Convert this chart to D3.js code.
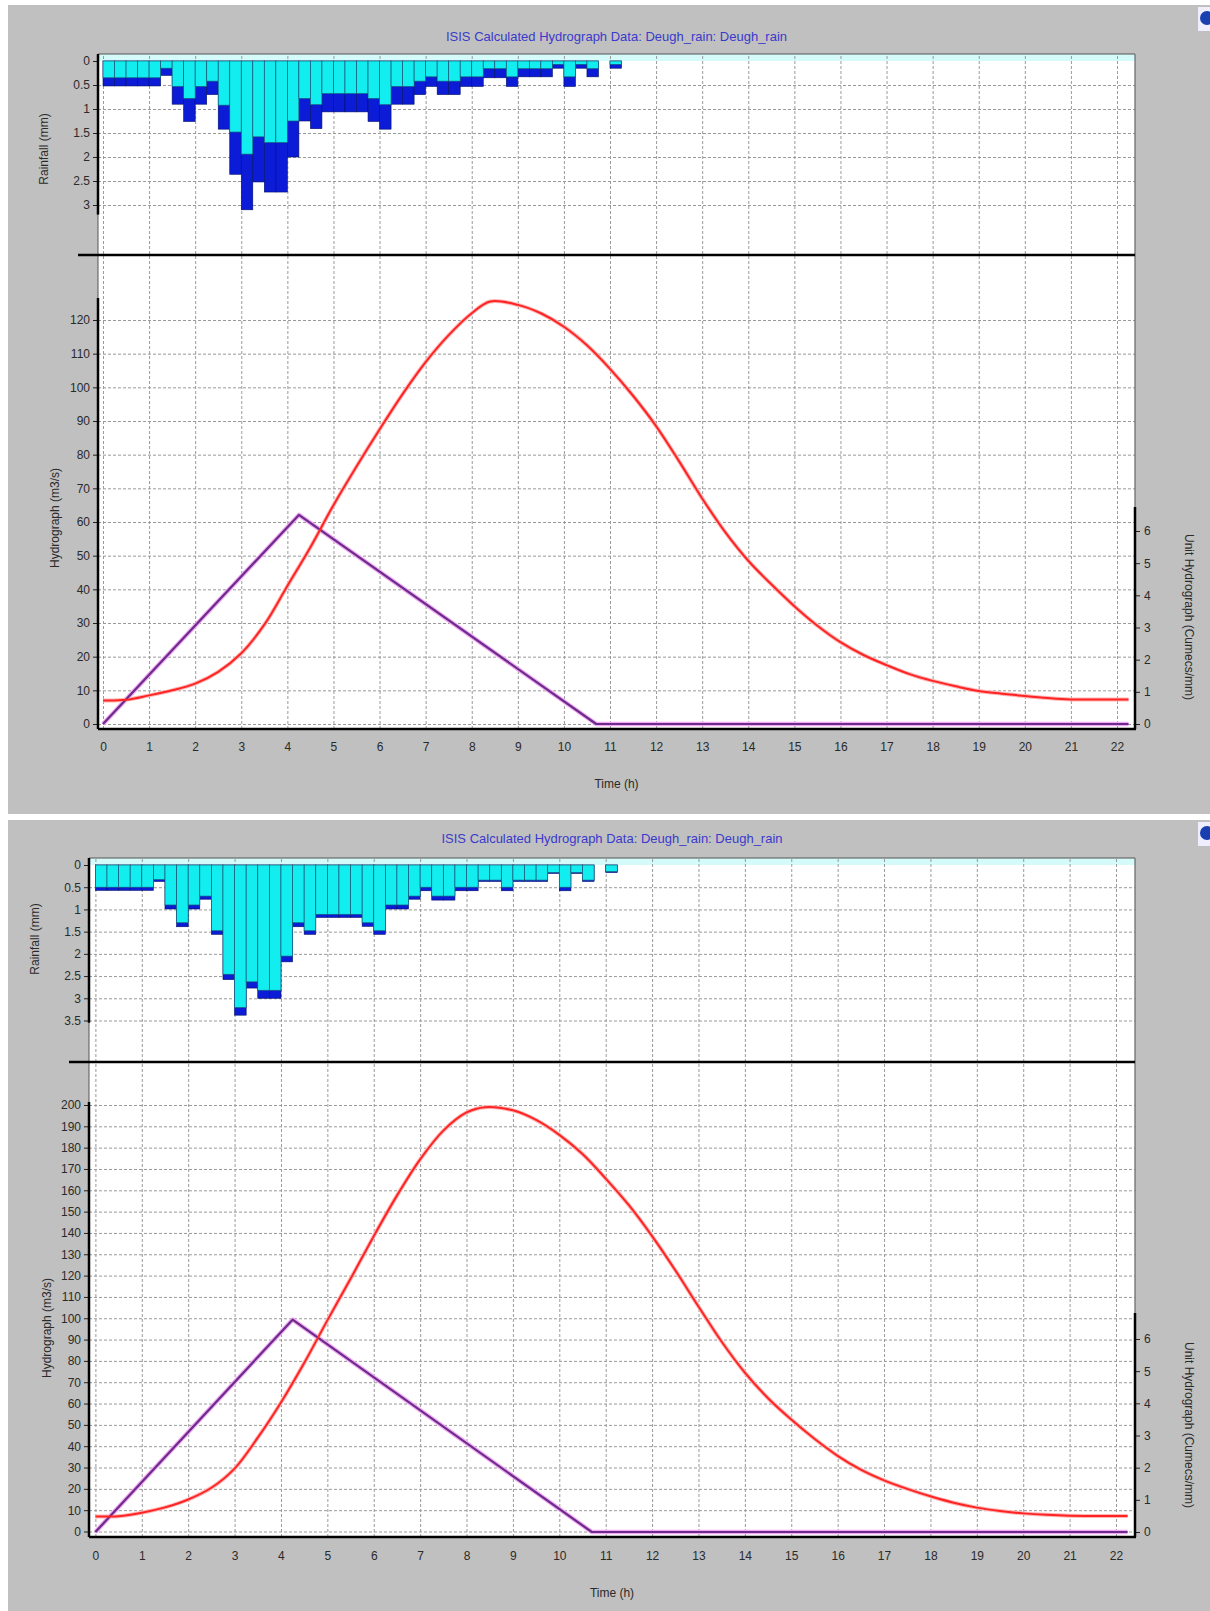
<!DOCTYPE html>
<html>
<head>
<meta charset="utf-8">
<script src="https://cdnjs.cloudflare.com/ajax/libs/d3/7.8.5/d3.min.js"></script>
<style>
  body { margin: 0; background: #fff; }
  svg { display: block; font-family: "Liberation Sans", Arial, sans-serif; }
</style>
</head>
<body>
<div id="chart"></div>
<script>
// ---- data ----
const titleText = "ISIS Calculated Hydrograph Data: Deugh_rain: Deugh_rain";

const timeTicks = [0,1,2,3,4,5,6,7,8,9,10,11,12,13,14,15,16,17,18,19,20,21,22];
const rainTicksTop = [0,0.5,1,1.5,2,2.5,3];
const rainTicksBottom = [0,0.5,1,1.5,2,2.5,3,3.5];
const flowTicksTop = [0,10,20,30,40,50,60,70,80,90,100,110,120];
const flowTicksBottom = [0,10,20,30,40,50,60,70,80,90,100,110,120,130,140,150,160,170,180,190,200];
const uhTicks = [0,1,2,3,4,5,6];

// rainfall in 15 minute blocks (start time, h)
const rainStep = 0.25;
const rainStart = [0,0.25,0.5,0.75,1,1.25,1.5,1.75,2,2.25,2.5,2.75,3,3.25,3.5,3.75,4,4.25,4.5,4.75,
  5,5.25,5.5,5.75,6,6.25,6.5,6.75,7,7.25,7.5,7.75,8,8.25,8.5,8.75,9,9.25,9.5,9.75,10,10.25,10.5,10.75,11];

// top chart: total (dark) and effective (cyan) rainfall, mm
const rainTotalTop = [0.52,0.52,0.52,0.52,0.52,0.3,0.9,1.26,0.9,0.7,1.42,2.36,3.1,2.52,2.73,2.73,2.0,1.25,1.41,1.06,
  1.06,1.06,1.06,1.26,1.42,0.9,0.9,0.7,0.53,0.7,0.7,0.53,0.53,0.35,0.35,0.53,0.33,0.33,0.33,0.15,0.53,0.15,0.33,0,0.15];
const rainEffTop = [0.35,0.35,0.35,0.35,0.35,0.15,0.53,0.78,0.53,0.42,0.92,1.48,1.94,1.58,1.7,1.7,1.25,0.78,0.91,0.68,
  0.68,0.68,0.68,0.78,0.91,0.53,0.53,0.42,0.33,0.42,0.42,0.33,0.33,0.16,0.16,0.33,0.16,0.16,0.16,0.07,0.33,0.07,0.16,0,0.07];

// bottom chart
const rainTotalBottom = [0.57,0.57,0.57,0.57,0.57,0.37,0.99,1.39,0.99,0.77,1.56,2.58,3.38,2.77,3.0,3.0,2.18,1.39,1.56,1.18,
  1.18,1.18,1.18,1.38,1.56,0.99,0.99,0.77,0.58,0.79,0.79,0.58,0.58,0.37,0.37,0.58,0.37,0.37,0.37,0.19,0.58,0.19,0.37,0,0.17];
const rainEffBottom = [0.5,0.5,0.5,0.5,0.5,0.33,0.9,1.3,0.9,0.7,1.48,2.46,3.21,2.63,2.82,2.82,2.05,1.3,1.48,1.11,
  1.11,1.11,1.11,1.3,1.48,0.9,0.9,0.7,0.5,0.7,0.7,0.5,0.5,0.34,0.34,0.5,0.34,0.34,0.34,0.17,0.5,0.17,0.34,0,0.15];

// hydrograph (m3/s)
const hydroTime = [0,0.5,1,1.5,2,2.5,3,3.5,4,4.5,5,5.5,6,6.5,7,7.5,8,8.4,9,9.5,10,10.5,11,11.5,12,12.5,13,13.5,14,14.5,
  15,15.5,16,16.5,17,17.5,18,18.5,19,19.5,20,20.5,21,22,22.25];
const flowTop = [7,7.2,8.5,10,12,15.5,21,29.5,41,52.5,65,76.5,87.5,98,107.5,115.5,122,125.5,124.5,122,118,112.5,105.5,97.5,88.5,78,67,57,48.5,41.5,
  35,29.2,24.3,20.5,17.5,14.8,12.8,11.2,9.8,9,8.3,7.7,7.3,7.3,7.3];
const flowBottom = [7,7.2,8.8,11.3,15,20.5,29.5,44,60.5,79,99,118.5,138.5,157.5,174.5,188,196.5,199,197.5,193,186,177,165.5,153,138.5,122.5,105.5,89,74.5,62.5,
  52.5,43.5,35.5,29,24,20,16.5,13.5,11.2,9.6,8.5,7.8,7.4,7.3,7.3];

// unit hydrograph (cumecs/mm)
const uhTime = [0,4.25,10.7,22.25];
const uhTop = [0,6.5,0,0];
const uhBottom = [0,6.6,0,0];

// ---- layout ----
const width = 1210, height = 1611;

const panels = [
  {
    rainTotal: rainTotalTop, rainEff: rainEffTop, rainTicks: rainTicksTop, rainAxisMax: 3.2,
    flow: flowTop, flowTicks: flowTicksTop, uh: uhTop,
    L: { bgTop: 5, bgBottom: 814, titleY: 41, left: 98, right: 1135, boxTop: 54, divider: 255, bottom: 729,
         x0: 103, x22: 1117, rainRange: [61, 205], flowRange: [724, 320], uhRange: [724, 531],
         flowAxisTop: 298, uhAxisTop: 507, xLabelY: 751, timeLabelY: 788,
         rainTitle: [44, 149], flowTitle: [55, 518], uhTitle: [1189, 617] }
  },
  {
    rainTotal: rainTotalBottom, rainEff: rainEffBottom, rainTicks: rainTicksBottom, rainAxisMax: 3.55,
    flow: flowBottom, flowTicks: flowTicksBottom, uh: uhBottom,
    L: { bgTop: 820, bgBottom: 1611, titleY: 843, left: 89, right: 1135, boxTop: 858, divider: 1062, bottom: 1537,
         x0: 95.4, x22: 1116, rainRange: [865, 1020.5], flowRange: [1531.5, 1105], uhRange: [1532, 1339],
         flowAxisTop: 1102, uhAxisTop: 1313, xLabelY: 1560, timeLabelY: 1597,
         rainTitle: [35, 939], flowTitle: [47, 1328], uhTitle: [1189, 1425] }
  }
];

const svg = d3.select("#chart").append("svg")
  .attr("width", width)
  .attr("height", height);

const gridColor = "#9a9a9a";
const labelColor = "#2a2a2a";

function styleAxis(a) {
  a.select(".domain").remove();
  a.selectAll("line").attr("stroke", "#222");
  a.selectAll("text").attr("fill", labelColor).attr("font-size", 12);
}

function drawPanel(p) {
  const L = p.L;
  const g = svg.append("g");

  // window background
  g.append("rect").attr("x", 8).attr("y", L.bgTop)
    .attr("width", width - 8).attr("height", L.bgBottom - L.bgTop)
    .attr("fill", "#c0c0c0");

  // small icon at top right
  g.append("rect").attr("x", 1198).attr("y", L.bgTop + 2).attr("width", 12).attr("height", 24).attr("fill", "#eef");
  g.append("circle").attr("cx", 1207).attr("cy", L.bgTop + 13).attr("r", 7).attr("fill", "#1a3fb0");

  // plot area
  g.append("rect").attr("x", L.left).attr("y", L.boxTop)
    .attr("width", L.right - L.left).attr("height", L.bottom - L.boxTop)
    .attr("fill", "#fff");

  const x = d3.scaleLinear().domain([0, 22]).range([L.x0, L.x22]);
  const yRain = d3.scaleLinear().domain([0, p.rainTicks[p.rainTicks.length - 1]]).range(L.rainRange);
  const yFlow = d3.scaleLinear().domain([0, p.flowTicks[p.flowTicks.length - 1]]).range(L.flowRange);
  const yUh = d3.scaleLinear().domain([0, uhTicks[uhTicks.length - 1]]).range(L.uhRange);

  // pale band above the rainfall zero line
  g.append("rect").attr("x", L.left).attr("y", L.boxTop)
    .attr("width", L.right - L.left).attr("height", yRain(0) - L.boxTop)
    .attr("fill", "#d4fafa");

  // grid lines
  const gridV = g.append("g").attr("transform", `translate(0,${L.bottom})`)
    .call(d3.axisBottom(x).tickValues(timeTicks).tickSize(-(L.bottom - L.boxTop)).tickFormat(""));
  const gridRain = g.append("g").attr("transform", `translate(${L.left},0)`)
    .call(d3.axisLeft(yRain).tickValues(p.rainTicks.slice(1)).tickSize(-(L.right - L.left)).tickFormat(""));
  const gridFlow = g.append("g").attr("transform", `translate(${L.left},0)`)
    .call(d3.axisLeft(yFlow).tickValues(p.flowTicks).tickSize(-(L.right - L.left)).tickFormat(""));
  [gridV, gridRain, gridFlow].forEach(a => {
    a.select(".domain").remove();
    a.selectAll("line").attr("stroke", gridColor).attr("stroke-width", 1).attr("stroke-dasharray", "3,2");
  });

  // rainfall bars (hanging from the top)
  const bars = g.append("g");
  bars.selectAll("rect.tot")
    .data(rainStart.filter((d, i) => p.rainTotal[i] > 0))
    .join("rect")
    .attr("class", "tot")
    .attr("x", d => x(d))
    .attr("width", d => x(d + rainStep) - x(d))
    .attr("y", yRain(0))
    .attr("height", d => yRain(p.rainTotal[rainStart.indexOf(d)]) - yRain(0))
    .attr("fill", "#0b1bd6")
    .attr("stroke", "#00106a")
    .attr("stroke-width", 0.6);
  bars.selectAll("rect.eff")
    .data(rainStart.filter((d, i) => p.rainEff[i] > 0))
    .join("rect")
    .attr("class", "eff")
    .attr("x", d => x(d))
    .attr("width", d => x(d + rainStep) - x(d))
    .attr("y", yRain(0))
    .attr("height", d => yRain(p.rainEff[rainStart.indexOf(d)]) - yRain(0))
    .attr("fill", "#12eef0")
    .attr("stroke", "#1b5a78")
    .attr("stroke-width", 0.7);

  // frame
  g.append("line").attr("x1", L.left).attr("x2", L.right).attr("y1", L.boxTop).attr("y2", L.boxTop)
    .attr("stroke", "#555").attr("stroke-width", 1.2);
  g.append("line").attr("x1", L.right).attr("x2", L.right).attr("y1", L.boxTop).attr("y2", L.bottom)
    .attr("stroke", "#666").attr("stroke-width", 1.2);
  g.append("line").attr("x1", L.left).attr("x2", L.left).attr("y1", L.boxTop).attr("y2", L.bottom)
    .attr("stroke", "#555").attr("stroke-width", 1);

  // divider between rainfall and hydrograph
  g.append("line").attr("x1", L.left - 20).attr("x2", L.right).attr("y1", L.divider).attr("y2", L.divider)
    .attr("stroke", "#000").attr("stroke-width", 2.5);

  // hydrograph lines
  const flowLine = d3.line()
    .x((d, i) => x(hydroTime[i]))
    .y(d => yFlow(d))
    .curve(d3.curveCatmullRom.alpha(0.5));
  const uhLine = d3.line()
    .x((d, i) => x(uhTime[i]))
    .y(d => yUh(d));

  g.append("path").attr("d", uhLine(p.uh)).attr("fill", "none")
    .attr("stroke", "#f2a8f2").attr("stroke-width", 4.5).attr("stroke-linejoin", "round");
  g.append("path").attr("d", flowLine(p.flow)).attr("fill", "none")
    .attr("stroke", "#ffb4b4").attr("stroke-width", 4).attr("stroke-linejoin", "round");
  g.append("path").attr("d", uhLine(p.uh)).attr("fill", "none")
    .attr("stroke", "#6c2c8c").attr("stroke-width", 2.2).attr("stroke-linejoin", "round");
  g.append("path").attr("d", flowLine(p.flow)).attr("fill", "none")
    .attr("stroke", "#ff2424").attr("stroke-width", 2).attr("stroke-linejoin", "round");

  // axes
  g.append("g").attr("transform", `translate(${L.left},0)`)
    .call(d3.axisLeft(yRain).tickValues(p.rainTicks).tickSize(5).tickPadding(3).tickFormat(d3.format("~g")))
    .call(styleAxis);
  g.append("g").attr("transform", `translate(${L.left},0)`)
    .call(d3.axisLeft(yFlow).tickValues(p.flowTicks).tickSize(5).tickPadding(3))
    .call(styleAxis);
  g.append("g").attr("transform", `translate(${L.right},0)`)
    .call(d3.axisRight(yUh).tickValues(uhTicks).tickSize(5).tickPadding(4).tickFormat(d3.format("d")))
    .call(styleAxis);
  g.append("g").attr("transform", `translate(0,${L.bottom})`)
    .call(d3.axisBottom(x).tickValues(timeTicks).tickSize(0).tickPadding(L.xLabelY - L.bottom - 9))
    .call(styleAxis);

  // thick axis lines
  const thick = (x1, y1, x2, y2) => g.append("line")
    .attr("x1", x1).attr("y1", y1).attr("x2", x2).attr("y2", y2)
    .attr("stroke", "#000").attr("stroke-width", 2.5);
  thick(L.left, L.boxTop, L.left, yRain(p.rainAxisMax));
  thick(L.left, L.flowAxisTop, L.left, L.bottom);
  thick(L.right, L.uhAxisTop, L.right, L.bottom);
  thick(L.left, L.bottom, L.right + 1, L.bottom);

  // texts
  g.append("text").attr("x", (L.left + L.right) / 2).attr("y", L.titleY)
    .attr("text-anchor", "middle").attr("font-size", 13).attr("fill", "#3a3acc")
    .text(titleText);
  g.append("text").attr("x", (L.left + L.right) / 2).attr("y", L.timeLabelY)
    .attr("text-anchor", "middle").attr("font-size", 12).attr("fill", labelColor)
    .text("Time (h)");
  g.append("text").attr("transform", `translate(${L.rainTitle[0]},${L.rainTitle[1]}) rotate(-90)`)
    .attr("text-anchor", "middle").attr("dy", "0.35em").attr("font-size", 12).attr("fill", labelColor)
    .text("Rainfall (mm)");
  g.append("text").attr("transform", `translate(${L.flowTitle[0]},${L.flowTitle[1]}) rotate(-90)`)
    .attr("text-anchor", "middle").attr("dy", "0.35em").attr("font-size", 12).attr("fill", labelColor)
    .text("Hydrograph (m3/s)");
  g.append("text").attr("transform", `translate(${L.uhTitle[0]},${L.uhTitle[1]}) rotate(90)`)
    .attr("text-anchor", "middle").attr("dy", "0.35em").attr("font-size", 12).attr("fill", labelColor)
    .text("Unit Hydrograph (Cumecs/mm)");
}

panels.forEach(drawPanel);
</script>
</body>
</html>
